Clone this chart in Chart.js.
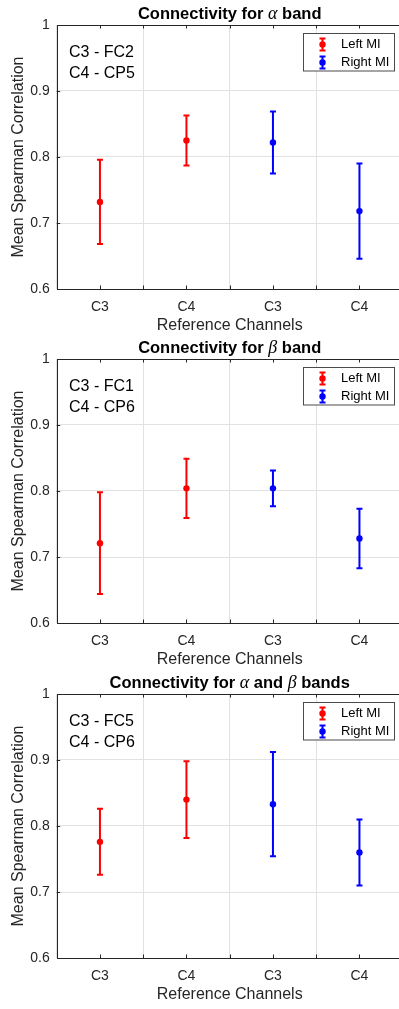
<!DOCTYPE html>
<html>
<head>
<meta charset="utf-8">
<script src="https://cdn.jsdelivr.net/npm/chart.js@4.4.0/dist/chart.umd.min.js"></script>
<style>
  html, body { margin: 0; padding: 0; background: #fff; overflow: hidden; width: 399px; height: 1009px; }
  canvas { position: absolute; left: 0; }
</style>
</head>
<body>
<canvas id="alphaChart" width="410" height="335" style="top:0px"></canvas>
<canvas id="betaChart" width="410" height="335" style="top:334px"></canvas>
<canvas id="bothChart" width="410" height="340" style="top:669px"></canvas>
<script>
// --- DADOS ---
const channels = ['C3', 'C4', 'C3', 'C4'];
const yTicks = [0.6, 0.7, 0.8, 0.9, 1];
const seriesNames = ['Left MI', 'Right MI'];

// banda alpha
const alphaLeftMean = [0.732, 0.825, null, null];
const alphaLeftErr = [0.064, 0.038, null, null];
const alphaRightMean = [null, null, 0.822, 0.718];
const alphaRightErr = [null, null, 0.047, 0.072];
const alphaPairs = ['C3 - FC2', 'C4 - CP5'];

// banda beta
const betaLeftMean = [0.721, 0.804, null, null];
const betaLeftErr = [0.077, 0.045, null, null];
const betaRightMean = [null, null, 0.804, 0.728];
const betaRightErr = [null, null, 0.027, 0.045];
const betaPairs = ['C3 - FC1', 'C4 - CP6'];

// alpha + beta
const bothLeftMean = [0.776, 0.840, null, null];
const bothLeftErr = [0.050, 0.058, null, null];
const bothRightMean = [null, null, 0.833, 0.760];
const bothRightErr = [null, null, 0.079, 0.050];
const bothPairs = ['C3 - FC5', 'C4 - CP6'];

// títulos (g = letra grega em itálico)
const alphaTitle = [['Connectivity for ', 'b'], ['\u03B1', 'g'], [' band', 'b']];
const betaTitle = [['Connectivity for ', 'b'], ['\u03B2', 'g'], [' band', 'b']];
const bothTitle = [['Connectivity for ', 'b'], ['\u03B1', 'g'], [' and ', 'b'], ['\u03B2', 'g'], [' bands', 'b']];

const SANS = "'Liberation Sans', Arial, Helvetica, sans-serif";
const SERIF = "'Liberation Serif', 'DejaVu Serif', serif";
const AXIS_COLOR = '#262626';
const GRID_COLOR = '#e2e2e2';

// --- PLUGIN: barras de erro, caixa, textos, legenda ---
const matlabPlot = {
    id: 'matlabPlot',
    beforeDatasetsDraw(chart) {
        const ctx = chart.ctx;
        const y = chart.scales.y;
        ctx.save();
        chart.data.datasets.forEach((ds, di) => {
            const meta = chart.getDatasetMeta(di);
            ds.data.forEach((m, i) => {
                if (m == null) return;
                const x = meta.data[i].x;
                const yTop = y.getPixelForValue(m + ds.errors[i]);
                const yBot = y.getPixelForValue(m - ds.errors[i]);
                ctx.strokeStyle = ds.borderColor;
                ctx.lineWidth = 2;
                ctx.beginPath();
                ctx.moveTo(x, yTop); ctx.lineTo(x, yBot);
                ctx.moveTo(x - 3, yTop); ctx.lineTo(x + 3, yTop);
                ctx.moveTo(x - 3, yBot); ctx.lineTo(x + 3, yBot);
                ctx.stroke();
            });
        });
        ctx.restore();
    },
    afterDraw(chart, args, opts) {
        const ctx = chart.ctx;
        const a = chart.chartArea;
        const xs = chart.scales.x;
        const ys = chart.scales.y;
        ctx.save();

        // caixa dos eixos
        ctx.strokeStyle = AXIS_COLOR;
        ctx.lineWidth = 1;
        ctx.strokeRect(Math.round(a.left) + 0.5, Math.round(a.top) + 0.5, a.right - a.left, a.bottom - a.top);

        // marcas internas (a cada meio canal no eixo x)
        ctx.beginPath();
        for (let i = 0; i < channels.length; i++) {
            const c = xs.getPixelForValue(i);
            const px = [Math.round(c) + 0.5];
            if (i < channels.length - 1) px.push(Math.round((c + xs.getPixelForValue(i + 1)) / 2) + 0.5);
            px.forEach(p => {
                ctx.moveTo(p, a.bottom); ctx.lineTo(p, a.bottom - 3.5);
                ctx.moveTo(p, a.top); ctx.lineTo(p, a.top + 3.5);
            });
        }
        yTicks.slice(1, -1).forEach(v => {
            const py = Math.round(ys.getPixelForValue(v)) + 0.5;
            ctx.moveTo(a.left, py); ctx.lineTo(a.left + 3.5, py);
        });
        ctx.stroke();

        const cx = (a.left + a.right) / 2;

        // título com letras gregas
        ctx.textBaseline = 'middle';
        ctx.fillStyle = '#000';
        const fontFor = t => t === 'g' ? 'italic 18px ' + SERIF : 'bold 16.5px ' + SANS;
        let total = 0;
        opts.title.forEach(p => { ctx.font = fontFor(p[1]); total += ctx.measureText(p[0]).width; });
        let tx = cx - total / 2;
        ctx.textAlign = 'left';
        opts.title.forEach(p => {
            ctx.font = fontFor(p[1]);
            ctx.fillText(p[0], tx, a.top - 11);
            tx += ctx.measureText(p[0]).width;
        });

        // rótulos dos eixos
        ctx.fillStyle = AXIS_COLOR;
        ctx.font = '16px ' + SANS;
        ctx.textAlign = 'center';
        ctx.fillText('Reference Channels', cx, a.bottom + 37);
        ctx.save();
        ctx.translate(18.5, (a.top + a.bottom) / 2);
        ctx.rotate(-Math.PI / 2);
        ctx.fillText('Mean Spearman Correlation', 0, 0);
        ctx.restore();

        // pares de canais
        ctx.fillStyle = '#000';
        ctx.textAlign = 'left';
        ctx.fillText(opts.pairs[0], 69, a.top + 28);
        ctx.fillText(opts.pairs[1], 69, a.top + 49);

        // legenda
        const lx = 303.5, ly = a.top + 8.5, lw = 91, lh = 37.5;
        ctx.fillStyle = '#fff';
        ctx.fillRect(lx, ly, lw, lh);
        ctx.strokeStyle = '#4a4a4a';
        ctx.lineWidth = 1;
        ctx.strokeRect(lx, ly, lw, lh);
        ctx.font = '13px ' + SANS;
        chart.data.datasets.forEach((ds, di) => {
            const iy = a.top + 19.5 + di * 18;
            const ix = 322.5;
            ctx.strokeStyle = ds.borderColor;
            ctx.lineWidth = 2;
            ctx.beginPath();
            ctx.moveTo(ix, iy - 6); ctx.lineTo(ix, iy + 6);
            ctx.moveTo(ix - 3, iy - 6); ctx.lineTo(ix + 3, iy - 6);
            ctx.moveTo(ix - 3, iy + 6); ctx.lineTo(ix + 3, iy + 6);
            ctx.stroke();
            ctx.fillStyle = ds.borderColor;
            ctx.beginPath();
            ctx.arc(ix, iy, 3.2, 0, Math.PI * 2);
            ctx.fill();
            ctx.fillStyle = '#000';
            ctx.fillText(ds.label, 341, iy);
        });

        ctx.restore();
    }
};

function makePanel(id, titleParts, pairs, leftMean, leftErr, rightMean, rightErr) {
    const canvas = document.getElementById(id);
    const bottomPad = canvas.height - 25 - 264 - 40;
    const serie = (label, mean, err, color) => ({
        label: label,
        data: mean,
        errors: err,
        showLine: false,
        borderColor: color,
        backgroundColor: color,
        pointBackgroundColor: color,
        pointBorderColor: color,
        pointRadius: 3.2,
        pointBorderWidth: 0
    });
    return new Chart(canvas.getContext('2d'), {
        type: 'line',
        data: {
            labels: channels,
            datasets: [
                serie(seriesNames[0], leftMean, leftErr, '#ff0000'),
                serie(seriesNames[1], rightMean, rightErr, '#0000ff')
            ]
        },
        options: {
            responsive: false,
            animation: false,
            events: [],
            layout: { padding: { top: 25, left: 0, right: 7.3, bottom: bottomPad } },
            plugins: {
                legend: { display: false },
                tooltip: { enabled: false },
                matlabPlot: { title: titleParts, pairs: pairs }
            },
            scales: {
                x: {
                    type: 'category',
                    offset: true,
                    grid: { offset: true, color: GRID_COLOR, drawTicks: false },
                    border: { display: false },
                    ticks: { color: AXIS_COLOR, font: { family: SANS, size: 14 }, padding: 10, autoSkip: false, maxRotation: 0 },
                    afterFit: s => { s.height = 40; }
                },
                y: {
                    min: 0.6,
                    max: 1,
                    afterBuildTicks: s => { s.ticks = yTicks.map(v => ({ value: v })); },
                    grid: { color: GRID_COLOR, drawTicks: false },
                    border: { display: false },
                    ticks: {
                        color: AXIS_COLOR,
                        font: { family: SANS, size: 14 },
                        padding: 7,
                        callback: v => v === 1 ? '1' : v.toFixed(1)
                    },
                    afterFit: s => { s.width = 56.7; }
                }
            }
        },
        plugins: [matlabPlot]
    });
}

makePanel('alphaChart', alphaTitle, alphaPairs, alphaLeftMean, alphaLeftErr, alphaRightMean, alphaRightErr);
makePanel('betaChart', betaTitle, betaPairs, betaLeftMean, betaLeftErr, betaRightMean, betaRightErr);
makePanel('bothChart', bothTitle, bothPairs, bothLeftMean, bothLeftErr, bothRightMean, bothRightErr);
</script>
</body>
</html>
